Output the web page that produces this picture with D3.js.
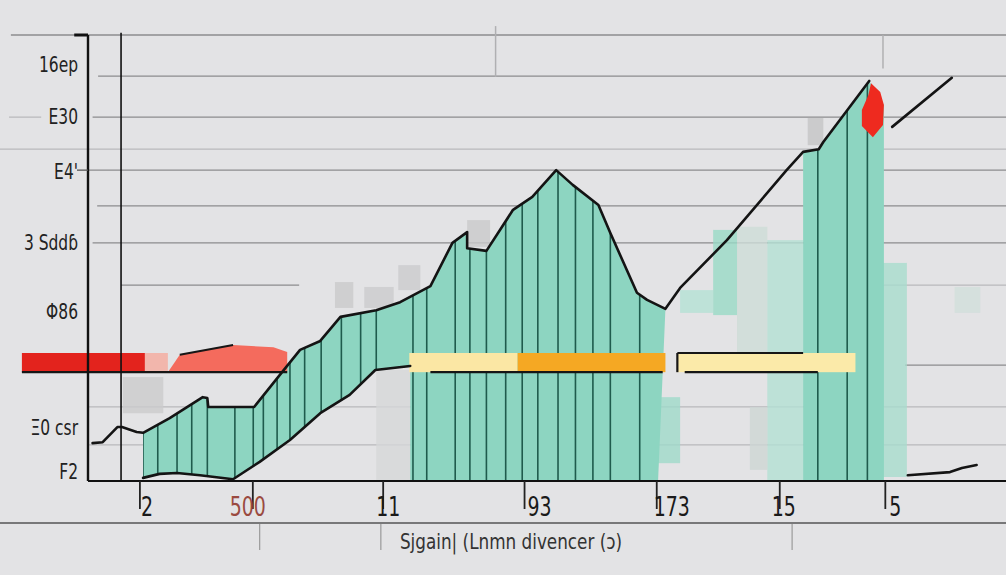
<!DOCTYPE html>
<html>
<head>
<meta charset="utf-8">
<script src="https://cdn.jsdelivr.net/npm/d3@7"></script>
<style>
  html, body { margin: 0; padding: 0; background: #e3e3e5; }
  svg { display: block; }
  text { font-family: "DejaVu Sans Condensed", "Liberation Sans", sans-serif; }
</style>
</head>
<body>
<svg id="chart" width="1006" height="575"></svg>
<script>
// ---------------- DATA ----------------
// main series (black line), [x, value]
const upperSeries = [
  [0.5, 8.5], [1.6, 8.7], [3.2, 12.1], [3.7, 12.1], [5.3, 11.0], [6.0, 10.8],
  [8.9, 14.1], [12.5, 18.8], [13.0, 18.6], [13.1, 16.6], [18.1, 16.6],
  [20.9, 23.8], [23.1, 29.4], [25.3, 31.4], [27.5, 36.8], [31.4, 38.3],
  [34.0, 40.1], [37.3, 43.7], [39.7, 53.4], [41.3, 55.8], [41.3, 52.2],
  [43.4, 51.6], [46.3, 60.8], [48.4, 63.7], [51.0, 69.7], [52.8, 66.4],
  [55.6, 61.9], [56.9, 55.6], [59.8, 42.2], [60.9, 40.6], [62.9, 38.6],
  [64.5, 43.3], [69.6, 54.0], [76.1, 69.7], [77.9, 73.8], [79.6, 74.4],
  [80.1, 76.0], [85.1, 89.7]
];
// lower boundary series (black line under the left band)
const lowerSeries = [
  [6.0, 0.7], [7.8, 1.6], [9.7, 1.8], [12.2, 1.3], [15.8, 0.4], [18.7, 4.3],
  [22.0, 9.2], [25.3, 15.2], [28.5, 19.3], [31.3, 24.9], [35.1, 25.8]
];
// secondary trailing series
const trendSeries = [[87.6, 79.4], [94.1, 90.4]];
const tailSeries = [[89.3, 1.3], [93.9, 2.0], [95.2, 2.9], [96.8, 3.6]];

// bar separators (x of each bar edge)
const barEdges = [6.0, 7.6, 9.7, 11.3, 13.0, 16.0, 18.0, 19.1, 20.6, 22.0, 23.6,
  25.4, 27.6, 29.7, 31.4, 35.4, 36.9, 40.0, 41.6, 43.4, 45.5, 47.3, 49.0, 51.2,
  53.1, 55.0, 56.9, 60.1, 79.5, 82.7, 84.9];

// horizontal range bands [x0, x1, low, high]
const bandRed    = [-7.2, 6.2, 24.4, 28.7];
const bandPink   = [6.2, 8.7, 24.4, 28.7];
const bandSalmon = [[8.7, 24.4], [10.0, 28.3], [15.8, 30.5], [20.2, 30.0], [21.7, 28.9], [21.7, 24.4]];
const bandYellow = [35.0, 46.8, 24.4, 28.7];
const bandOrange = [46.8, 62.9, 24.4, 28.7];
const bandYellow2 = [64.2, 83.6, 24.4, 28.7];

// peak marker
const peakMarker = [[85.3, 89.2], [86.3, 87.2], [86.7, 84.3], [86.6, 79.8], [85.5, 77.1], [84.3, 79.6], [84.3, 83.2], [85.0, 86.5]];

// faint background columns [x0, x1, low, high]
const ghostCols = [
  [62.0, 64.5, 4.0, 18.8], [64.5, 68.1, 37.7, 42.8], [68.1, 70.7, 37.2, 56.3],
  [70.7, 74.0, 27.8, 57.0], [74.0, 77.9, 0.2, 54.0], [72.1, 74.0, 2.5, 16.6],
  [86.6, 89.2, 0.9, 48.9], [94.4, 97.2, 37.7, 43.5], [31.4, 35.1, 0, 24.9],
  [3.8, 8.2, 15.2, 23.3], [26.9, 28.9, 38.8, 44.6], [30.1, 33.3, 38.8, 43.5],
  [33.8, 36.2, 42.8, 48.4], [41.3, 43.8, 52.5, 58.5], [78.4, 80.1, 75.3, 81.4]
];

// gridlines [value, x0, x1, strong]
const gridLines = [
  [100, -8.4, 100, 1], [90.8, 1.1, 100, 1], [81.6, 0.5, 100, 1], [74.4, -9.6, 100, 0],
  [69.7, 0, 100, 1], [61.7, 1.0, 100, 1], [53.4, 0.5, 100, 1], [43.9, 3.6, 23.0, 1],
  [43.9, 86.6, 100, 0], [26.0, 89.0, 100, 1], [16.6, 0, 100, 0], [8.1, 0, 100, 0],
  [81.6, -8.6, -5.1, 0]
];

// tick labels
const yTickValues = [93.3, 81.6, 69.3, 53.4, 37.9, 11.9, 2.0];
const yTickLabels = ["16ep", "E30", "E4'", "3 Sddɓ", "Φ86", "Ξ0 csr", "F2"];
const xTickValues = [5.6, 17.9, 32.1, 47.5, 61.9, 75.3, 86.8];
const xTickLabels = ["2", "500", "11", "93", "173", "15", "5"];
const xLabelShift = [7, -5, 5, 15, 15, 4, 10];
const xTitle = "Sjgain| (Lnmn divencer (\u0254)";

// ---------------- STYLE ----------------
const ghostFill = ["#9fdac9", "#b4e1d4", "#98d9c6", "#cddcd7", "#b3e0d3", "#cdd6d3",
  "#a8dccd", "#d1dfdb", "#d6d7d8", "#cacacc", "#c9c9cb", "#cbcbcd", "#cbcbcd", "#c9c9cb", "#c4c4c6"];

// ---------------- CHART ----------------
const svg = d3.select("#chart");
const x = d3.scaleLinear().domain([0, 100]).range([88, 1006]);
const y = d3.scaleLinear().domain([0, 100]).range([481, 35]);
const line = d3.line().x(d => x(d[0])).y(d => y(d[1]));

// gridlines
svg.append("g").selectAll("line").data(gridLines).join("line")
  .attr("x1", d => x(d[1])).attr("x2", d => x(d[2]))
  .attr("y1", d => y(d[0])).attr("y2", d => y(d[0]))
  .attr("stroke", d => d[3] ? "#8c8c8e" : "#b9b9bb")
  .attr("stroke-width", 1.3);

// faint verticals near top
svg.append("g").selectAll("line").data([[44.4, 102, 90.6], [86.6, 100, 92.5]]).join("line")
  .attr("x1", d => x(d[0])).attr("x2", d => x(d[0]))
  .attr("y1", d => y(d[1])).attr("y2", d => y(d[2]))
  .attr("stroke", "#b0b0b2").attr("stroke-width", 1.5);

// ghost columns
svg.append("g").selectAll("rect").data(ghostCols).join("rect")
  .attr("x", d => x(d[0])).attr("width", d => x(d[1]) - x(d[0]))
  .attr("y", d => y(d[3])).attr("height", d => y(d[2]) - y(d[3]))
  .attr("fill", (d, i) => ghostFill[i]).attr("opacity", 0.8);

// teal area polygons built from series
const idxMidEnd = upperSeries.findIndex(d => d[0] === 62.9);
const leftStart = upperSeries.findIndex(d => d[0] === 6.0);
const areaMain = upperSeries.slice(leftStart, idxMidEnd + 1)
  .concat([[62.1, 0], [35.1, 0]])
  .concat(lowerSeries.slice().reverse());
const rightStart = upperSeries.findIndex(d => d[0] === 77.9);
const areaRight = upperSeries.slice(rightStart)
  .concat([peakMarker[2], [peakMarker[2][0], 0], [77.9, 0]]);

const defs = svg.append("defs");
const clip = defs.append("clipPath").attr("id", "tealClip");
clip.append("path").attr("d", line(areaMain) + "Z");
clip.append("path").attr("d", line(areaRight) + "Z");

const teal = svg.append("g");
teal.append("path").attr("d", line(areaMain) + "Z").attr("fill", "#8dd5c1");
teal.append("path").attr("d", line(areaRight) + "Z").attr("fill", "#8dd5c1");

// bar separators
svg.append("g").attr("clip-path", "url(#tealClip)")
  .selectAll("line").data(barEdges).join("line")
  .attr("x1", d => x(d)).attr("x2", d => x(d))
  .attr("y1", y(0)).attr("y2", y(100))
  .attr("stroke", "#1f5b4d").attr("stroke-width", 1.6);

// bands
const bands = svg.append("g");
const bandRect = (b, fill) => bands.append("rect")
  .attr("x", x(b[0])).attr("width", x(b[1]) - x(b[0]))
  .attr("y", y(b[3])).attr("height", y(b[2]) - y(b[3])).attr("fill", fill);
bandRect(bandRed, "#e3231d");
bandRect(bandPink, "#f2b6ac");
bands.append("path").attr("d", line(bandSalmon) + "Z").attr("fill", "#f46b5d");
bandRect(bandYellow, "#fbe7a4");
bandRect(bandOrange, "#f5a823");
bandRect(bandYellow2, "#fbeaa9");

// band outlines
const outline = [
  [[bandRed[0], bandRed[2]], [bandSalmon[5][0], bandRed[2]]],
  [bandSalmon[1], bandSalmon[2]],
  [[37.3, bandYellow[2]], [62.6, bandYellow[2]]],
  [[bandYellow2[0], bandYellow2[3]], [77.9, bandYellow2[3]]],
  [[65.0, bandYellow2[2]], [79.5, bandYellow2[2]]],
  [[bandYellow2[0], bandYellow2[3]], [bandYellow2[0], bandYellow2[2]]]
];
svg.append("g").selectAll("path").data(outline).join("path")
  .attr("d", line).attr("fill", "none").attr("stroke", "#161616").attr("stroke-width", 2.2);

// peak marker
svg.append("path").attr("d", line(peakMarker) + "Z").attr("fill", "#ee2a1f");

// lines
const lines = svg.append("g").attr("fill", "none").attr("stroke", "#141414")
  .attr("stroke-width", 2.6).attr("stroke-linejoin", "round").attr("stroke-linecap", "round");
lines.append("path").attr("d", line(upperSeries));
lines.append("path").attr("d", line(lowerSeries));
lines.append("path").attr("d", line(trendSeries));
lines.append("path").attr("d", line(tailSeries));

// axes lines
svg.append("line").attr("x1", x(0)).attr("x2", x(0)).attr("y1", y(100)).attr("y2", y(0))
  .attr("stroke", "#111").attr("stroke-width", 2.4);
svg.append("line").attr("x1", x(-1.5)).attr("x2", x(0)).attr("y1", y(100)).attr("y2", y(100))
  .attr("stroke", "#111").attr("stroke-width", 3);
svg.append("line").attr("x1", x(-1.2)).attr("x2", x(0)).attr("y1", y(69.7)).attr("y2", y(69.7))
  .attr("stroke", "#555").attr("stroke-width", 1.3);
svg.append("line").attr("x1", x(3.6)).attr("x2", x(3.6)).attr("y1", y(100.5)).attr("y2", y(0))
  .attr("stroke", "#111").attr("stroke-width", 1.6);

// y axis labels
const yAxis = svg.append("g").attr("transform", `translate(${x(0)},0)`)
  .call(d3.axisLeft(y).tickValues(yTickValues).tickFormat((d, i) => yTickLabels[i]).tickSize(0).tickPadding(10));
yAxis.select(".domain").remove();
yAxis.selectAll("text").attr("font-size", 21).attr("fill", "#222")
  .attr("x", 0).attr("transform", "translate(-10,0) scale(0.82,1)");

// x axis
const xAxis = svg.append("g").attr("transform", `translate(0,${y(0)})`)
  .call(d3.axisBottom(x).tickValues(xTickValues).tickFormat((d, i) => xTickLabels[i]).tickSize(28));
xAxis.select(".domain").attr("stroke", "#111").attr("stroke-width", 2.2).attr("d", `M${x(0)},0H1006`);
xAxis.selectAll(".tick line").attr("stroke", "#222").attr("stroke-width", 1.8);
xAxis.selectAll("text").attr("font-size", 27).attr("fill", (d, i) => i === 1 ? "#9a4a40" : "#1a1a1a")
  .attr("x", 0).attr("y", 0).attr("dy", 0)
  .attr("transform", (d, i) => `translate(${xLabelShift[i]},35) scale(0.78,1)`);

// lower rule and title
svg.append("line").attr("x1", 0).attr("x2", 1006).attr("y1", 523).attr("y2", 523)
  .attr("stroke", "#555").attr("stroke-width", 1.6);
svg.append("g").selectAll("line").data([18.7, 31.9, 76.7]).join("line")
  .attr("x1", d => x(d)).attr("x2", d => x(d)).attr("y1", 524).attr("y2", 550)
  .attr("stroke", "#9a9a9a").attr("stroke-width", 1.2);
svg.append("text").attr("x", 0).attr("y", 0).attr("text-anchor", "middle")
  .attr("transform", "translate(511,549) scale(0.85,1)")
  .attr("font-size", 22).attr("fill", "#333").text(xTitle);
</script>
</body>
</html>
